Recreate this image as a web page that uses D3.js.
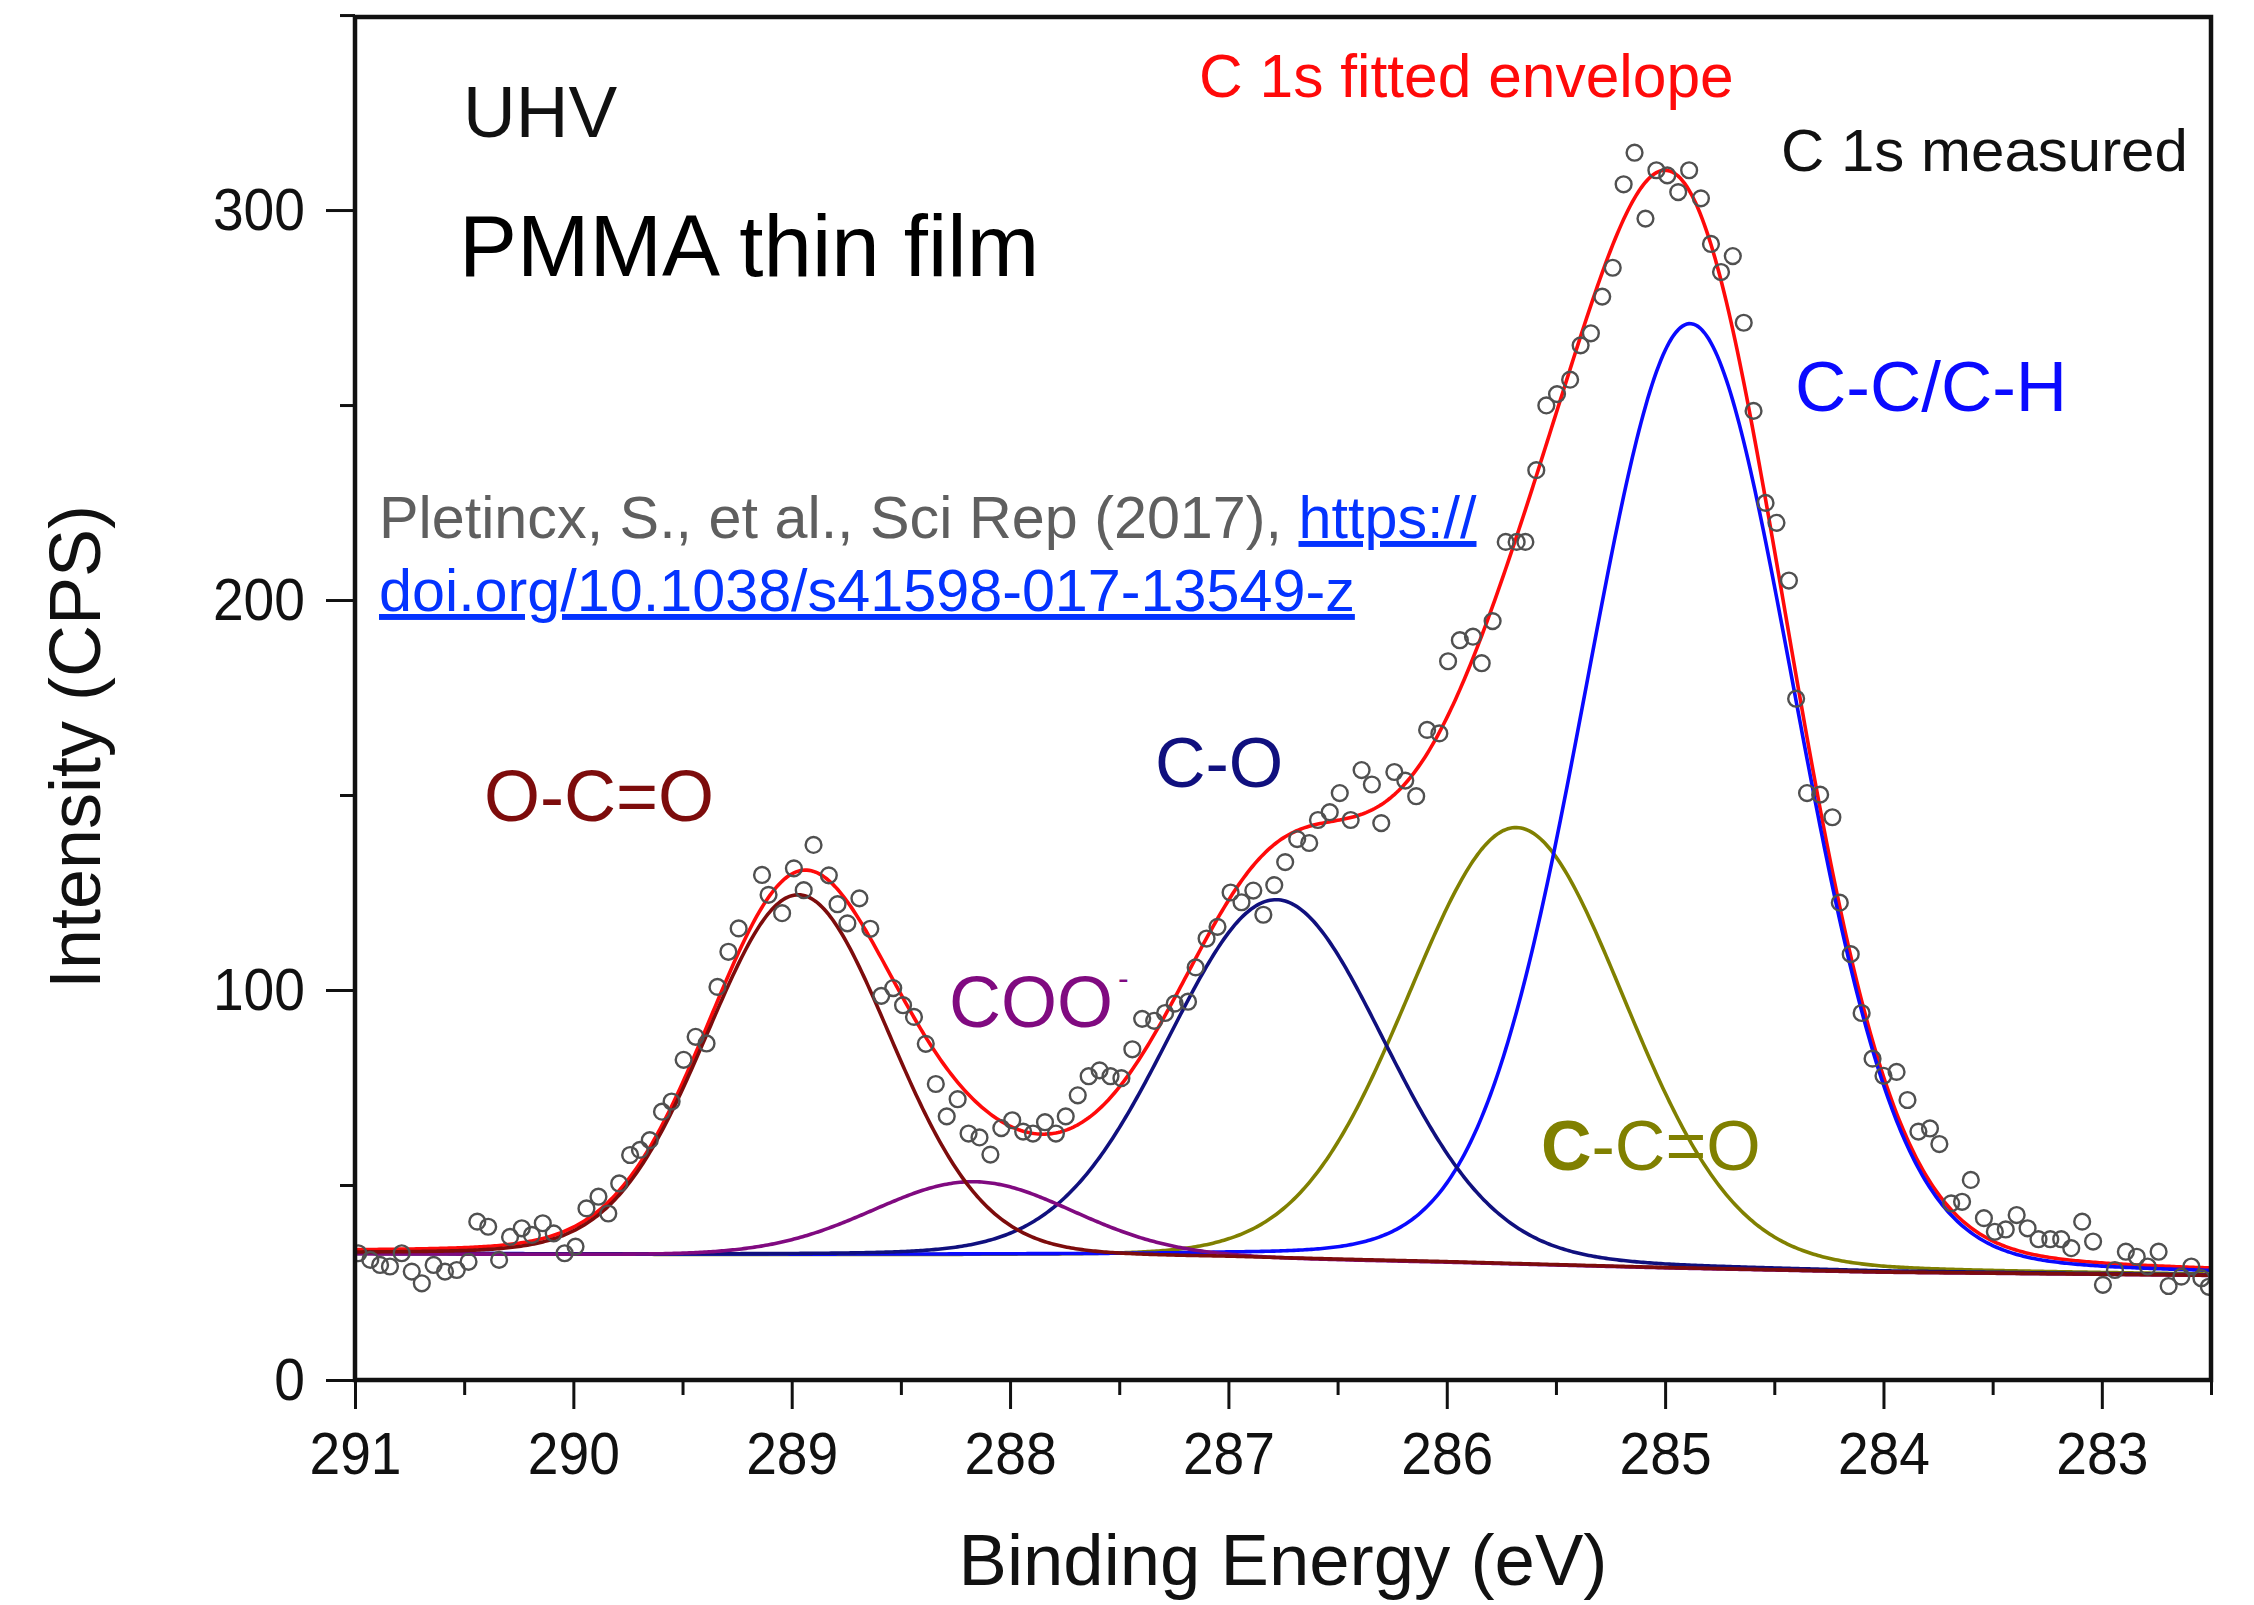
<!DOCTYPE html>
<html>
<head>
<meta charset="utf-8">
<script src="https://cdn.jsdelivr.net/npm/d3@7"></script>
<style>
  html, body { margin: 0; padding: 0; background: #ffffff; }
  svg { display: block; }
  text { font-family: "Liberation Sans", Arial, Helvetica, sans-serif; }
</style>
</head>
<body>
<svg id="chart" width="2254" height="1605"></svg>
<script>
// ---- Measured C 1s spectrum (binding energy in eV, intensity in CPS) ----
const energy = [
  290.985, 290.93, 290.885, 290.84, 290.786, 290.74, 290.694, 290.64, 290.588, 290.534,
  290.48, 290.44, 290.39, 290.34, 290.29, 290.236, 290.19, 290.14, 290.09, 290.04,
  289.99, 289.94, 289.885, 289.84, 289.79, 289.74, 289.695, 289.65, 289.594, 289.55,
  289.495, 289.44, 289.39, 289.34, 289.29, 289.243, 289.136, 289.106, 289.044, 288.99,
  288.945, 288.9, 288.83, 288.79, 288.745, 288.69, 288.64, 288.59, 288.535, 288.49,
  288.44, 288.386, 288.34, 288.29, 288.24, 288.19, 288.14, 288.09, 288.04, 287.99,
  287.94, 287.895, 287.84, 287.79, 287.745, 287.69, 287.64, 287.59, 287.54, 287.49,
  287.44, 287.395, 287.34, 287.29, 287.246, 287.185, 287.15, 287.1, 287.05, 286.99,
  286.94, 286.886, 286.84, 286.79, 286.74, 286.685, 286.63, 286.59, 286.536, 286.49,
  286.44, 286.39, 286.343, 286.3, 286.24, 286.19, 286.14, 286.09, 286.034, 285.994,
  285.94, 285.88, 285.84, 285.79, 285.73, 285.68, 285.64, 285.59, 285.544, 285.495,
  285.435, 285.387, 285.34, 285.288, 285.24, 285.19, 285.14, 285.09, 285.04, 284.99,
  284.94, 284.89, 284.836, 284.79, 284.744, 284.69, 284.64, 284.595, 284.54, 284.49,
  284.433, 284.4, 284.35, 284.29, 284.234, 284.2, 284.15, 284.1, 284.05, 284.0,
  283.94, 283.89, 283.84, 283.787, 283.744, 283.69, 283.64, 283.6, 283.54, 283.49,
  283.44, 283.39, 283.34, 283.29, 283.236, 283.186, 283.14, 283.09, 283.04, 282.995,
  282.94, 282.89, 282.84, 282.79, 282.74, 282.694, 282.636, 282.59, 282.544, 282.51
];
const counts = [
  32.5, 30.8, 29.5, 29.1, 32.5, 27.8, 24.8, 29.5, 27.8, 28.2,
  30.3, 40.6, 39.3, 30.8, 36.7, 38.9, 37.2, 40.2, 37.6, 32.5,
  34.2, 44.0, 47.0, 42.7, 50.4, 57.7, 59.0, 61.5, 68.8, 71.4,
  82.1, 88.0, 86.3, 100.8, 109.8, 115.8, 129.5, 124.4, 119.7, 131.2,
  125.6, 137.2, 129.4, 122.0, 117.1, 123.5, 115.7, 98.5, 100.5, 96.1,
  93.1, 86.2, 75.9, 67.6, 72.0, 63.2, 62.2, 57.8, 64.6, 66.6,
  63.7, 63.2, 66.1, 63.2, 67.6, 73.0, 77.9, 79.4, 77.9, 77.4,
  84.8, 92.6, 92.1, 94.1, 96.5, 97.0, 105.8, 113.2, 116.2, 125.0,
  122.5, 125.5, 119.3, 126.9, 132.8, 138.7, 137.7, 143.6, 145.6, 150.5,
  143.6, 156.4, 152.7, 142.8, 155.9, 153.7, 149.7, 166.7, 165.8, 184.3,
  189.7, 190.6, 183.8, 194.6, 214.9, 214.9, 214.9, 233.3, 249.9, 252.8,
  256.5, 265.3, 268.4, 277.8, 285.2, 306.6, 314.7, 297.8, 310.2, 308.9,
  304.6, 310.2, 303.0, 291.3, 284.1, 288.2, 271.1, 248.5, 224.9, 219.8,
  205.0, 174.7, 150.5, 150.1, 144.3, 122.4, 109.2, 94.1, 82.4, 78.0,
  79.0, 71.8, 63.7, 64.5, 60.5, 45.3, 45.7, 51.3, 41.5, 38.0,
  38.6, 42.3, 38.9, 36.1, 36.1, 36.1, 33.8, 40.6, 35.5, 24.4,
  28.2, 32.9, 31.6, 29.1, 32.9, 24.1, 26.5, 29.1, 26.1, 23.9
];

// ---- Fitted components: position (eV), height above background (CPS), FWHM (eV) ----
const compNames  = ["O-C=O", "COO-", "C-O", "C-C=O", "C-C/C-H"];
const compCenter = [288.97, 288.17, 286.78, 285.68, 284.885];
const compHeight = [92.6, 19.2, 92.2, 112.0, 242.3];
const compFwhm   = [1.00, 1.10, 1.18, 1.18, 1.14];
const compColor  = ["#7d0c0c", "#800a80", "#10107e", "#808000", "#0a0aff"];
const lorentzMix = 0.1;   // Gaussian/Lorentzian mixing of the line shape

// Background under the fit (eV, CPS)
const bgEnergy = [291, 288, 287, 286, 285, 284, 282.5];
const bgCounts = [32.3, 31.6, 31.2, 30.1, 28.7, 27.6, 26.8];

// Axis ticks
const xMajor = [291, 290, 289, 288, 287, 286, 285, 284, 283];
const xMinor = [290.5, 289.5, 288.5, 287.5, 286.5, 285.5, 284.5, 283.5, 282.5];
const yMajor = [0, 100, 200, 300];
const yMinor = [50, 150, 250, 350];

// ---- Layout ----
const plot = { left: 355, right: 2211, top: 17, bottom: 1380 };
const svg = d3.select("#chart");

const x = d3.scaleLinear().domain([291, 282.5]).range([plot.left, plot.right]);
const y = d3.scaleLinear().domain([0, 349.5]).range([plot.bottom, plot.top]);

const background = d3.scaleLinear().domain(bgEnergy).range(bgCounts);

// pseudo-Voigt line shape, normalised to 1 at the centre
function lineShape(e, c, w) {
  const u = (e - c) / w;
  const g = Math.exp(-4 * Math.LN2 * u * u);
  const l = 1 / (1 + 4 * u * u);
  return (1 - lorentzMix) * g + lorentzMix * l;
}

const grid = d3.range(291, 282.5 - 1e-9, -0.01);
const components = compNames.map((name, i) => ({
  name, color: compColor[i],
  values: grid.map(e => ({ e, v: background(e) + compHeight[i] * lineShape(e, compCenter[i], compFwhm[i]) }))
}));
const envelope = grid.map(e => ({
  e,
  v: background(e) + d3.sum(compNames, (_, i) => compHeight[i] * lineShape(e, compCenter[i], compFwhm[i]))
}));

svg.append("defs").append("clipPath").attr("id", "plotClip")
  .append("rect")
  .attr("x", plot.left).attr("y", plot.top)
  .attr("width", plot.right - plot.left).attr("height", plot.bottom - plot.top);

const line = d3.line().x(d => x(d.e)).y(d => y(d.v)).curve(d3.curveLinear);
const marks = svg.append("g").attr("clip-path", "url(#plotClip)");

// fitted envelope underneath, then the components
marks.append("path").datum(envelope)
  .attr("d", line).attr("fill", "none")
  .attr("stroke", "#ff0a0a").attr("stroke-width", 3.6);

const drawOrder = [3, 4, 2, 1, 0];
drawOrder.forEach(i => {
  marks.append("path").datum(components[i].values)
    .attr("d", line).attr("fill", "none")
    .attr("stroke", components[i].color).attr("stroke-width", 3.6);
});

// measured points: open circles
marks.append("g").selectAll("circle")
  .data(energy.map((e, i) => ({ e, v: counts[i] })))
  .join("circle")
  .attr("cx", d => x(d.e)).attr("cy", d => y(d.v))
  .attr("r", 7.9)
  .attr("fill", "none").attr("stroke", "#505050").attr("stroke-width", 2.4);

// ---- Axes ----
const tickFont = 60;
const gx = svg.append("g").attr("transform", `translate(0,${plot.bottom})`);
gx.call(d3.axisBottom(x).tickValues(xMajor).tickFormat(d3.format("d")).tickSize(29).tickPadding(22));
gx.append("g").call(d3.axisBottom(x).tickValues(xMinor).tickFormat("").tickSize(15));
gx.selectAll(".domain").remove();
gx.selectAll("line").attr("stroke", "#111").attr("stroke-width", 3);
gx.selectAll("text")
  .attr("font-size", tickFont).attr("fill", "#111")
  .attr("font-family", '"Liberation Sans", Arial, sans-serif')
  .attr("transform", "scale(0.92,1)");

const gy = svg.append("g").attr("transform", `translate(${plot.left},0)`);
gy.call(d3.axisLeft(y).tickValues(yMajor).tickFormat(d3.format("d")).tickSize(29).tickPadding(21));
gy.append("g").call(d3.axisLeft(y).tickValues(yMinor).tickFormat("").tickSize(15));
gy.selectAll(".domain").remove();
gy.selectAll("line").attr("stroke", "#111").attr("stroke-width", 3);
gy.selectAll("text")
  .attr("font-size", tickFont).attr("fill", "#111")
  .attr("font-family", '"Liberation Sans", Arial, sans-serif')
  .attr("x", -50 / 0.92)
  .attr("transform", "scale(0.92,1)");

// frame
svg.append("rect")
  .attr("x", plot.left).attr("y", plot.top)
  .attr("width", plot.right - plot.left).attr("height", plot.bottom - plot.top)
  .attr("fill", "none").attr("stroke", "#111").attr("stroke-width", 4.5);

// axis titles
svg.append("text")
  .attr("x", 1283).attr("y", 1585)
  .attr("text-anchor", "middle").attr("font-size", 72.5).attr("fill", "#111")
  .text("Binding Energy (eV)");
svg.append("text")
  .attr("transform", "translate(100,747) rotate(-90)")
  .attr("text-anchor", "middle").attr("font-size", 72).attr("fill", "#111")
  .text("Intensity (CPS)");

// ---- Annotations ----
svg.append("text").attr("x", 463).attr("y", 137).attr("font-size", 73).attr("fill", "#111").text("UHV");
svg.append("text").attr("x", 459).attr("y", 276).attr("font-size", 87).attr("fill", "#000").text("PMMA thin film");

const cite1 = svg.append("text").attr("x", 379).attr("y", 538).attr("font-size", 59.3);
cite1.append("tspan").attr("fill", "#5f5f5f").text("Pletincx, S., et al., Sci Rep (2017), ");
cite1.append("tspan").attr("fill", "#0433ff").attr("text-decoration", "underline").text("https://");
svg.append("text").attr("x", 379).attr("y", 611).attr("font-size", 59.3)
  .attr("fill", "#0433ff").attr("text-decoration", "underline")
  .text("doi.org/10.1038/s41598-017-13549-z");

svg.append("text").attr("x", 1199).attr("y", 97).attr("font-size", 60.5).attr("fill", "#ff0a0a").text("C 1s fitted envelope");
svg.append("text").attr("x", 1781).attr("y", 171).attr("font-size", 60).attr("fill", "#111").text("C 1s measured");

svg.append("text").attr("x", 1795).attr("y", 411).attr("font-size", 71).attr("fill", compColor[4]).text("C-C/C-H");
svg.append("text").attr("x", 484).attr("y", 821).attr("font-size", 72).attr("fill", compColor[0]).text("O-C=O");
const coo = svg.append("text").attr("x", 949).attr("y", 1027).attr("font-size", 72).attr("fill", compColor[1]);
coo.append("tspan").text("COO");
coo.append("tspan").attr("font-size", 32).attr("dx", 5).attr("dy", -38).text("-");
svg.append("text").attr("x", 1155).attr("y", 787).attr("font-size", 70).attr("fill", compColor[2]).text("C-O");
const cco = svg.append("text").attr("x", 1541).attr("y", 1170).attr("font-size", 70).attr("fill", compColor[3]);
cco.append("tspan").attr("font-weight", "bold").text("C");
cco.append("tspan").text("-C=O");
</script>
</body>
</html>
